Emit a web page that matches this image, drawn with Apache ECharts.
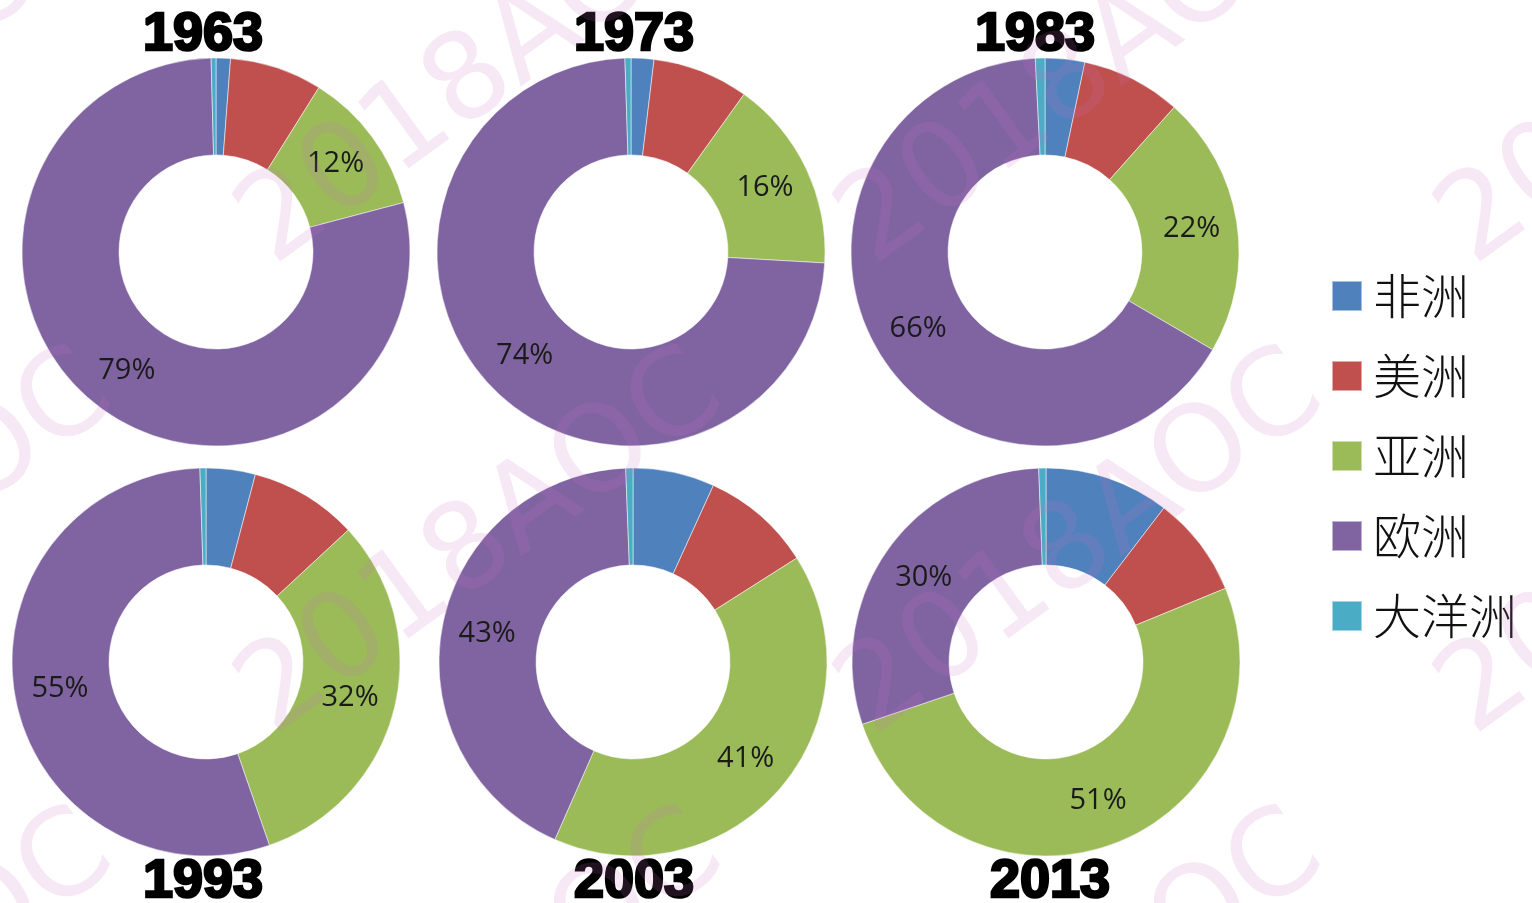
<!DOCTYPE html>
<html><head><meta charset="utf-8">
<script src="https://cdn.jsdelivr.net/npm/echarts@6/dist/echarts.min.js"></script>
<style>html,body{margin:0;padding:0;background:#fff}#c{width:1532px;height:903px}</style>
</head><body><div id="c"></div>
<script>
const regions = ['非洲','美洲','亚洲','欧洲','大洋洲'];
const colors = ['#4f81bd','#c0504d','#9bbb59','#8064a2','#4bacc6'];
const years = ['1963','1973','1983','1993','2003','2013'];
const v1963 = [1.2, 7.7, 12.0, 78.7, 0.4];
const v1973 = [1.9, 8.0, 16.0, 73.6, 0.5];
const v1983 = [3.3, 8.3, 21.8, 65.8, 0.8];
const v1993 = [4.1, 9.0, 31.6, 54.8, 0.5];
const v2003 = [6.8, 9.2, 40.6, 42.8, 0.6];
const v2013 = [10.4, 8.4, 51.0, 29.6, 0.6];
const labelled = ['亚洲','欧洲'];

const values = [v1963, v1973, v1983, v1993, v2003, v2013];
const centers = [[216,252],[631,252],[1045,252],[206,662],[633,662],[1046,662]];
const titlePos = [[203,35],[634,35],[1035,35],[203,882],[634,882],[1050,882]];

const series = values.map((vals, i) => ({
  type: 'pie',
  name: years[i],
  center: centers[i],
  radius: [97, 194],
  startAngle: 90,
  clockwise: true,
  avoidLabelOverlap: false,
  animation: false,
  itemStyle: { borderColor: 'rgba(255,255,255,0.5)', borderWidth: 1 },
  label: {
    show: true,
    position: 'inside',
    fontFamily: 'Open Sans',
    fontSize: 29,
    color: '#1a1a1a',
    formatter: p => labelled.includes(p.name) ? Math.round(p.percent) + '%' : ''
  },
  labelLine: { show: false },
  emphasis: { disabled: true },
  data: regions.map((r, k) => ({ name: r, value: vals[k] }))
}));

const graphics = years.map((y, i) => ({
  type: 'text',
  x: titlePos[i][0], y: titlePos[i][1],
  style: {
    text: y, fill: '#000',
    font: '900 54px "Liberation Sans", Arial, sans-serif',
    textAlign: 'center', textVerticalAlign: 'middle',
    stroke: '#000', lineWidth: 2.6
  },
  z: 10
}));

// faint watermark tiles
const wmStarts = [];
[[290, [-320, 290, 890, 1490]], [760, [-320, 290, 890, 1490]], [1220, [-320, 290, 890]]].forEach(([yy, xs]) => {
  xs.forEach(xx => wmStarts.push([xx, yy]));
});
wmStarts.forEach(([x, y]) => graphics.push({
  type: 'text', x: x, y: y, rotation: 36 * Math.PI / 180,
  style: {
    text: '2018AOC', fill: 'rgba(200,110,195,0.16)',
    font: '120px "DejaVu Sans", sans-serif',
    textAlign: 'left', textVerticalAlign: 'bottom'
  },
  z: 100, silent: true
}));

const chart = echarts.init(document.getElementById('c'), null, { renderer: 'canvas' });
chart.setOption({
  animation: false,
  color: colors,
  legend: {
    orient: 'vertical',
    left: 1326, top: 266,
    itemWidth: 30, itemHeight: 30,
    itemGap: 30,
    icon: 'rect',
    data: regions,
    textStyle: { fontFamily: '"Noto Sans CJK SC"', fontWeight: 300, fontSize: 48, lineHeight: 50, color: '#111', padding: [0,0,0,6] },
    selectedMode: false
  },
  graphic: graphics,
  series: series
});
</script></body></html>
